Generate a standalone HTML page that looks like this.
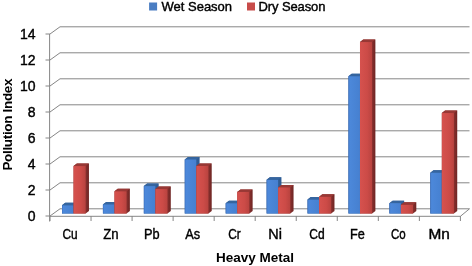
<!DOCTYPE html>
<html><head><meta charset="utf-8"><style>
html,body{margin:0;padding:0;background:#fff;width:472px;height:266px;overflow:hidden}
svg{display:block;will-change:transform}
text{font-family:"Liberation Sans",sans-serif;fill:#000}
.ax{font-size:14px;stroke:#000;stroke-width:0.4px}
.tt{font-size:13.5px;font-weight:bold;letter-spacing:0px}
.lg{font-size:13px;stroke:#000;stroke-width:0.4px}
</style></head><body>
<svg width="472" height="266" viewBox="0 0 472 266">
<defs>
<linearGradient id="gb" x1="0" x2="1" y1="0" y2="0"><stop offset="0" stop-color="#3f74c4"/><stop offset="0.12" stop-color="#4c88da"/><stop offset="1" stop-color="#4680d0"/></linearGradient>
<linearGradient id="gr" x1="0" x2="1" y1="0" y2="0"><stop offset="0" stop-color="#d6524e"/><stop offset="0.6" stop-color="#cc4b47"/><stop offset="1" stop-color="#b8433f"/></linearGradient>
<linearGradient id="gs" x1="0" x2="1" y1="0" y2="0"><stop offset="0.75" stop-color="#8c3230"/><stop offset="1" stop-color="#6e2523"/></linearGradient>
</defs>
<rect width="472" height="266" fill="#fff"/>
<path d="M50.00 216.00L60.00 208.80L469.50 208.80" fill="none" stroke="#868686" stroke-width="1"/><path d="M45.50 216.00H50.00" stroke="#868686" stroke-width="1"/><path d="M50.00 190.00L60.00 182.80L469.50 182.80" fill="none" stroke="#868686" stroke-width="1"/><path d="M45.50 190.00H50.00" stroke="#868686" stroke-width="1"/><path d="M50.00 164.00L60.00 156.80L469.50 156.80" fill="none" stroke="#868686" stroke-width="1"/><path d="M45.50 164.00H50.00" stroke="#868686" stroke-width="1"/><path d="M50.00 138.00L60.00 130.80L469.50 130.80" fill="none" stroke="#868686" stroke-width="1"/><path d="M45.50 138.00H50.00" stroke="#868686" stroke-width="1"/><path d="M50.00 112.00L60.00 104.80L469.50 104.80" fill="none" stroke="#868686" stroke-width="1"/><path d="M45.50 112.00H50.00" stroke="#868686" stroke-width="1"/><path d="M50.00 86.00L60.00 78.80L469.50 78.80" fill="none" stroke="#868686" stroke-width="1"/><path d="M45.50 86.00H50.00" stroke="#868686" stroke-width="1"/><path d="M50.00 60.00L60.00 52.80L469.50 52.80" fill="none" stroke="#868686" stroke-width="1"/><path d="M45.50 60.00H50.00" stroke="#868686" stroke-width="1"/><path d="M50.00 34.00L60.00 26.80L469.50 26.80" fill="none" stroke="#868686" stroke-width="1"/><path d="M45.50 34.00H50.00" stroke="#868686" stroke-width="1"/><path d="M49.6 34.00V221.50" stroke="#868686" stroke-width="1"/><path d="M50.00 216.30H460.40L469.50 208.80" fill="none" stroke="#868686" stroke-width="1"/><path d="M50.00 216.00V221.00" stroke="#868686" stroke-width="1"/><path d="M91.04 216.00V221.00" stroke="#868686" stroke-width="1"/><path d="M132.08 216.00V221.00" stroke="#868686" stroke-width="1"/><path d="M173.12 216.00V221.00" stroke="#868686" stroke-width="1"/><path d="M214.16 216.00V221.00" stroke="#868686" stroke-width="1"/><path d="M255.20 216.00V221.00" stroke="#868686" stroke-width="1"/><path d="M296.24 216.00V221.00" stroke="#868686" stroke-width="1"/><path d="M337.28 216.00V221.00" stroke="#868686" stroke-width="1"/><path d="M378.32 216.00V221.00" stroke="#868686" stroke-width="1"/><path d="M419.36 216.00V221.00" stroke="#868686" stroke-width="1"/><path d="M460.40 216.00V221.00" stroke="#868686" stroke-width="1"/><path d="M62.00 213.50V205.34L65.30 202.84H76.85V211.00L73.55 213.50Z" fill="#2f5c94"/><path d="M62.00 205.34L65.30 202.84H76.85L73.55 205.34Z" fill="#35659f"/><rect x="62.00" y="205.34" width="11.55" height="8.16" fill="url(#gb)"/><path d="M73.55 213.50V166.08L76.85 163.58H88.95V211.00L85.65 213.50Z" fill="url(#gs)"/><path d="M73.55 166.08L76.85 163.58H88.95L85.65 166.08Z" fill="#983835"/><rect x="73.55" y="166.08" width="12.10" height="47.42" fill="url(#gr)"/><path d="M102.92 213.50V204.43L106.22 201.93H117.77V211.00L114.47 213.50Z" fill="#2f5c94"/><path d="M102.92 204.43L106.22 201.93H117.77L114.47 204.43Z" fill="#35659f"/><rect x="102.92" y="204.43" width="11.55" height="9.07" fill="url(#gb)"/><path d="M114.47 213.50V191.30L117.77 188.80H129.87V211.00L126.57 213.50Z" fill="url(#gs)"/><path d="M114.47 191.30L117.77 188.80H129.87L126.57 191.30Z" fill="#983835"/><rect x="114.47" y="191.30" width="12.10" height="22.20" fill="url(#gr)"/><path d="M143.84 213.50V186.10L147.14 183.60H158.69V211.00L155.39 213.50Z" fill="#2f5c94"/><path d="M143.84 186.10L147.14 183.60H158.69L155.39 186.10Z" fill="#35659f"/><rect x="143.84" y="186.10" width="11.55" height="27.40" fill="url(#gb)"/><path d="M155.39 213.50V189.09L158.69 186.59H170.79V211.00L167.49 213.50Z" fill="url(#gs)"/><path d="M155.39 189.09L158.69 186.59H170.79L167.49 189.09Z" fill="#983835"/><rect x="155.39" y="189.09" width="12.10" height="24.41" fill="url(#gr)"/><path d="M184.76 213.50V159.45L188.06 156.95H199.61V211.00L196.31 213.50Z" fill="#2f5c94"/><path d="M184.76 159.45L188.06 156.95H199.61L196.31 159.45Z" fill="#35659f"/><rect x="184.76" y="159.45" width="11.55" height="54.05" fill="url(#gb)"/><path d="M196.31 213.50V165.95L199.61 163.45H211.71V211.00L208.41 213.50Z" fill="url(#gs)"/><path d="M196.31 165.95L199.61 163.45H211.71L208.41 165.95Z" fill="#983835"/><rect x="196.31" y="165.95" width="12.10" height="47.55" fill="url(#gr)"/><path d="M225.68 213.50V203.26L228.98 200.76H240.53V211.00L237.23 213.50Z" fill="#2f5c94"/><path d="M225.68 203.26L228.98 200.76H240.53L237.23 203.26Z" fill="#35659f"/><rect x="225.68" y="203.26" width="11.55" height="10.24" fill="url(#gb)"/><path d="M237.23 213.50V191.95L240.53 189.45H252.63V211.00L249.33 213.50Z" fill="url(#gs)"/><path d="M237.23 191.95L240.53 189.45H252.63L249.33 191.95Z" fill="#983835"/><rect x="237.23" y="191.95" width="12.10" height="21.55" fill="url(#gr)"/><path d="M266.60 213.50V179.86L269.90 177.36H281.45V211.00L278.15 213.50Z" fill="#2f5c94"/><path d="M266.60 179.86L269.90 177.36H281.45L278.15 179.86Z" fill="#35659f"/><rect x="266.60" y="179.86" width="11.55" height="33.64" fill="url(#gb)"/><path d="M278.15 213.50V187.40L281.45 184.90H293.55V211.00L290.25 213.50Z" fill="url(#gs)"/><path d="M278.15 187.40L281.45 184.90H293.55L290.25 187.40Z" fill="#983835"/><rect x="278.15" y="187.40" width="12.10" height="26.10" fill="url(#gr)"/><path d="M307.52 213.50V199.62L310.82 197.12H322.37V211.00L319.07 213.50Z" fill="#2f5c94"/><path d="M307.52 199.62L310.82 197.12H322.37L319.07 199.62Z" fill="#35659f"/><rect x="307.52" y="199.62" width="11.55" height="13.88" fill="url(#gb)"/><path d="M319.07 213.50V196.76L322.37 194.26H334.47V211.00L331.17 213.50Z" fill="url(#gs)"/><path d="M319.07 196.76L322.37 194.26H334.47L331.17 196.76Z" fill="#983835"/><rect x="319.07" y="196.76" width="12.10" height="16.74" fill="url(#gr)"/><path d="M348.44 213.50V76.25L351.74 73.75H363.29V211.00L359.99 213.50Z" fill="#2f5c94"/><path d="M348.44 76.25L351.74 73.75H363.29L359.99 76.25Z" fill="#35659f"/><rect x="348.44" y="76.25" width="11.55" height="137.25" fill="url(#gb)"/><path d="M359.99 213.50V42.06L363.29 39.56H375.39V211.00L372.09 213.50Z" fill="url(#gs)"/><path d="M359.99 42.06L363.29 39.56H375.39L372.09 42.06Z" fill="#983835"/><rect x="359.99" y="42.06" width="12.10" height="171.44" fill="url(#gr)"/><path d="M389.36 213.50V203.13L392.66 200.63H404.21V211.00L400.91 213.50Z" fill="#2f5c94"/><path d="M389.36 203.13L392.66 200.63H404.21L400.91 203.13Z" fill="#35659f"/><rect x="389.36" y="203.13" width="11.55" height="10.37" fill="url(#gb)"/><path d="M400.91 213.50V204.82L404.21 202.32H416.31V211.00L413.01 213.50Z" fill="url(#gs)"/><path d="M400.91 204.82L404.21 202.32H416.31L413.01 204.82Z" fill="#983835"/><rect x="400.91" y="204.82" width="12.10" height="8.68" fill="url(#gr)"/><path d="M430.28 213.50V172.71L433.58 170.21H445.13V211.00L441.83 213.50Z" fill="#2f5c94"/><path d="M430.28 172.71L433.58 170.21H445.13L441.83 172.71Z" fill="#35659f"/><rect x="430.28" y="172.71" width="11.55" height="40.79" fill="url(#gb)"/><path d="M441.83 213.50V113.04L445.13 110.54H457.23V211.00L453.93 213.50Z" fill="url(#gs)"/><path d="M441.83 113.04L445.13 110.54H457.23L453.93 113.04Z" fill="#983835"/><rect x="441.83" y="113.04" width="12.10" height="100.46" fill="url(#gr)"/>
<text x="35.5" y="220.60" text-anchor="end" class="ax">0</text><text x="35.5" y="194.60" text-anchor="end" class="ax">2</text><text x="35.5" y="168.60" text-anchor="end" class="ax">4</text><text x="35.5" y="142.60" text-anchor="end" class="ax">6</text><text x="35.5" y="116.60" text-anchor="end" class="ax">8</text><text x="35.5" y="90.60" text-anchor="end" class="ax">10</text><text x="35.5" y="64.60" text-anchor="end" class="ax">12</text><text x="35.5" y="38.60" text-anchor="end" class="ax">14</text><text transform="translate(70.00 239) scale(0.847 1)" text-anchor="middle" class="ax">Cu</text><text transform="translate(110.85 239) scale(0.940 1)" text-anchor="middle" class="ax">Zn</text><text transform="translate(151.80 239) scale(0.912 1)" text-anchor="middle" class="ax">Pb</text><text transform="translate(192.80 239) scale(0.912 1)" text-anchor="middle" class="ax">As</text><text transform="translate(234.40 239) scale(0.850 1)" text-anchor="middle" class="ax">Cr</text><text transform="translate(275.10 239) scale(1.033 1)" text-anchor="middle" class="ax">Ni</text><text transform="translate(316.90 239) scale(0.859 1)" text-anchor="middle" class="ax">Cd</text><text transform="translate(357.40 239) scale(0.907 1)" text-anchor="middle" class="ax">Fe</text><text transform="translate(398.30 239) scale(0.824 1)" text-anchor="middle" class="ax">Co</text><text transform="translate(439.20 239) scale(1.100 1)" text-anchor="middle" class="ax">Mn</text><text x="255" y="261.5" text-anchor="middle" class="tt">Heavy Metal</text><text transform="translate(12.2 124.7) rotate(-90)" text-anchor="middle" class="tt" style="letter-spacing:-0.33px">Pollution Index</text><rect x="149.1" y="2.5" width="8" height="8" fill="#4a7dc2"/><text x="161.5" y="10.6" class="lg">Wet Season</text><rect x="247" y="2.5" width="8" height="8" fill="#c84c4a"/><text x="258.6" y="10.6" class="lg" style="letter-spacing:-0.12px">Dry Season</text>
</svg>
</body></html>
